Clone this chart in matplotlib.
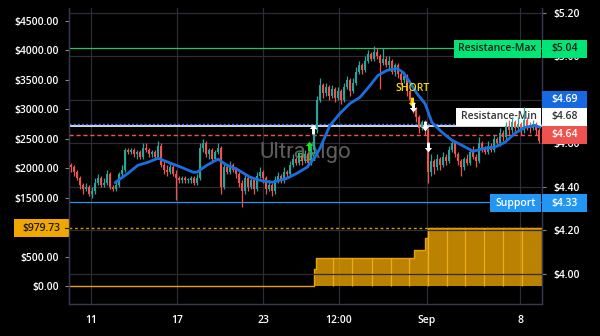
import numpy as np
import matplotlib
matplotlib.use('Agg')
import matplotlib.pyplot as plt
from matplotlib.path import Path
from matplotlib.patches import Rectangle
import matplotlib.transforms as mtrans

plt.rcParams['font.family'] = ['Open Sans', 'DejaVu Sans']
plt.rcParams['font.weight'] = 'semibold'

# ---------------- data ----------------
open0 = 4.50
close = [4.49, 4.47, 4.44, 4.41, 4.39, 4.40, 4.37, 4.38, 4.42, 4.44,
         4.41, 4.42, 4.46, 4.40, 4.39, 4.41, 4.46, 4.48, 4.57, 4.56,
         4.57, 4.55, 4.56, 4.54, 4.58, 4.57, 4.55, 4.56, 4.54, 4.59,
         4.50, 4.48, 4.47, 4.49, 4.46, 4.44, 4.43, 4.44, 4.43, 4.43,
         4.44, 4.42, 4.44, 4.58, 4.60, 4.55, 4.57, 4.53, 4.56, 4.58,
         4.40, 4.49, 4.47, 4.50, 4.48, 4.46, 4.42, 4.38, 4.44, 4.40,
         4.43, 4.39, 4.45, 4.47, 4.44, 4.39, 4.41, 4.38, 4.43, 4.45,
         4.43, 4.47, 4.46, 4.50, 4.53, 4.51, 4.54, 4.52, 4.55, 4.51,
         4.57, 4.66, 4.80, 4.87, 4.83, 4.86, 4.82, 4.85, 4.81, 4.84,
         4.80, 4.86, 4.89, 4.84, 4.88, 4.93, 4.96, 4.94, 4.98, 5.01,
         4.99, 5.02, 5.00, 4.97, 4.99, 4.96, 4.98, 4.93, 4.96, 4.92,
         4.89, 4.91, 4.84, 4.80, 4.76, 4.72, 4.67, 4.70, 4.66, 4.47,
         4.52, 4.49, 4.53, 4.50, 4.54, 4.52, 4.57, 4.60, 4.55, 4.52,
         4.49, 4.53, 4.51, 4.56, 4.54, 4.52, 4.60, 4.58, 4.56, 4.59,
         4.57, 4.62, 4.60, 4.65, 4.63, 4.68, 4.66, 4.70, 4.67, 4.69,
         4.66, 4.71, 4.68, 4.67, 4.69, 4.66, 4.61]
high = [4.51, 4.50, 4.48, 4.45, 4.42, 4.42, 4.41, 4.40, 4.44, 4.46,
        4.45, 4.44, 4.48, 4.47, 4.41, 4.43, 4.47, 4.50, 4.58, 4.58,
        4.58, 4.58, 4.57, 4.57, 4.60, 4.60, 4.58, 4.57, 4.57, 4.61,
        4.60, 4.52, 4.50, 4.51, 4.50, 4.48, 4.45, 4.45, 4.45, 4.44,
        4.45, 4.45, 4.46, 4.60, 4.62, 4.61, 4.58, 4.58, 4.57, 4.60,
        4.59, 4.51, 4.50, 4.52, 4.51, 4.49, 4.47, 4.43, 4.46, 4.45,
        4.45, 4.44, 4.47, 4.49, 4.48, 4.45, 4.43, 4.42, 4.45, 4.47,
        4.46, 4.49, 4.48, 4.52, 4.55, 4.54, 4.56, 4.55, 4.57, 4.56,
        4.59, 4.68, 4.82, 4.90, 4.88, 4.88, 4.87, 4.87, 4.86, 4.86,
        4.85, 4.88, 4.91, 4.90, 4.90, 4.95, 4.98, 4.97, 5.00, 5.03,
        5.02, 5.05, 5.04, 5.01, 5.04, 5.00, 5.00, 4.99, 4.97, 4.97,
        4.93, 4.93, 4.92, 4.85, 4.81, 4.77, 4.73, 4.71, 4.71, 4.67,
        4.55, 4.53, 4.55, 4.54, 4.56, 4.55, 4.59, 4.62, 4.61, 4.56,
        4.53, 4.54, 4.55, 4.58, 4.59, 4.55, 4.63, 4.61, 4.59, 4.61,
        4.60, 4.64, 4.63, 4.67, 4.66, 4.70, 4.71, 4.72, 4.71, 4.72,
        4.70, 4.77, 4.72, 4.70, 4.71, 4.70, 4.67]
low = [4.47, 4.45, 4.43, 4.39, 4.37, 4.38, 4.36, 4.35, 4.37, 4.41,
       4.40, 4.40, 4.41, 4.39, 4.38, 4.38, 4.40, 4.45, 4.47, 4.55,
       4.55, 4.54, 4.53, 4.53, 4.53, 4.56, 4.54, 4.54, 4.53, 4.53,
       4.49, 4.46, 4.45, 4.46, 4.45, 4.34, 4.42, 4.42, 4.42, 4.42,
       4.42, 4.41, 4.41, 4.43, 4.56, 4.54, 4.53, 4.52, 4.52, 4.55,
       4.37, 4.39, 4.46, 4.46, 4.47, 4.44, 4.40, 4.31, 4.37, 4.38,
       4.39, 4.37, 4.38, 4.44, 4.42, 4.37, 4.38, 4.36, 4.37, 4.42,
       4.42, 4.42, 4.44, 4.45, 4.49, 4.50, 4.50, 4.50, 4.51, 4.49,
       4.50, 4.55, 4.65, 4.79, 4.81, 4.82, 4.80, 4.81, 4.79, 4.80,
       4.78, 4.79, 4.85, 4.82, 4.83, 4.87, 4.92, 4.92, 4.93, 4.97,
       4.98, 4.98, 4.99, 4.85, 4.96, 4.95, 4.94, 4.92, 4.91, 4.90,
       4.87, 4.88, 4.82, 4.78, 4.74, 4.70, 4.65, 4.66, 4.64, 4.42,
       4.45, 4.46, 4.48, 4.48, 4.49, 4.50, 4.51, 4.56, 4.54, 4.50,
       4.45, 4.48, 4.50, 4.50, 4.53, 4.49, 4.51, 4.56, 4.55, 4.55,
       4.56, 4.56, 4.59, 4.59, 4.61, 4.62, 4.64, 4.65, 4.65, 4.66,
       4.64, 4.65, 4.66, 4.65, 4.66, 4.64, 4.60]

ma_idx = [14.7, 19.0, 22.3, 25.7, 29.0, 33.3, 36.7, 40.7, 42.0, 45.3,
          49.0, 52.0, 55.3, 59.7, 64.0, 67.3, 72.0, 75.3, 78.7, 81.3,
          83.0, 86.3, 89.7, 93.0, 96.3, 99.7, 102.3, 105.3, 108.7, 110.7,
          113.0, 115.3, 118.0, 120.3, 123.7, 127.0, 130.3, 134.0, 138.0, 141.3,
          144.7, 148.0, 151.3, 154.7, 156.3]
ma_val = [4.420, 4.463, 4.500, 4.514, 4.532, 4.509, 4.491, 4.468, 4.468, 4.500,
          4.528, 4.500, 4.482, 4.445, 4.427, 4.422, 4.440, 4.463, 4.491, 4.537,
          4.578, 4.683, 4.739, 4.784, 4.812, 4.867, 4.913, 4.936, 4.945, 4.927,
          4.881, 4.830, 4.784, 4.697, 4.651, 4.615, 4.592, 4.564, 4.578, 4.583,
          4.606, 4.647, 4.674, 4.683, 4.674]

# cumulative profit (left scale), step positions in bar units
eq_idx = [-1, 81.0, 81.7, 114.3, 118.0, 119.0, 157.5]
eq_val = [0.0, 290.0, 476.0, 612.0, 816.0, 979.73, 979.73]
eq_marks = [87.3, 93.7, 100.3, 106.7, 112.7, 119.0, 125.3, 131.3, 137.7, 144.0, 150.3]

x_ticks = [6.67, 35.33, 64.0, 89.33, 118.67, 149.67]
x_labels = ['11', '17', '23', '12:00', 'Sep', '8']
left_ticks = [0, 500, 1500, 2000, 2500, 3000, 3500, 4000, 4500]
right_ticks = [4.0, 4.2, 4.4, 4.6, 4.8, 5.0, 5.2]

res_max = 5.04
res_min = 4.68
last_price = 4.64
blue_level = 4.69
support = 4.33
equity_last = 979.73

buy_x, buy_y = [79.3], [4.59]
exitl_x, exitl_y = [80.7], [4.665]
short_x, short_y = [113.7], [4.789]
exits_x, exits_y = [114.0, 118.0, 119.0], [4.766, 4.679, 4.583]

# ---------------- figure ----------------
BG = '#000000'
GRID = '#2c2c36'
SPINE = '#363650'
TXT = '#ffffff'
UP = '#26a69a'
DN = '#ef5350'
FS = 7.5

fig = plt.figure(figsize=(6, 3.36), dpi=100, facecolor=BG)
ax = fig.add_axes([69/600, 32/336, 473/600, 296/336])
ax.set_facecolor(BG)
ax2 = ax.twinx()

ax.set_xlim(-0.667, 157)
ax.set_ylim(-306, 4721)
ax2.set_ylim(3.862, 5.223)

for a in (ax, ax2):
    for s in a.spines.values():
        s.set_color(SPINE)
        s.set_linewidth(0.9)
    a.spines['top'].set_visible(False)

ax.set_xticks(x_ticks)
ax.set_xticklabels(x_labels)
ax.tick_params(axis='x', length=0, pad=8, colors=TXT, labelsize=FS)
ax.xaxis.grid(True, color=GRID, lw=0.9)
ax.set_yticks(left_ticks)
ax.set_yticklabels(['$%.2f' % v for v in left_ticks])
ax.tick_params(axis='y', length=3, width=0.8, pad=4, colors=TXT, labelsize=FS)
ax.tick_params(axis='y', color='#888888')
ax2.set_yticks(right_ticks)
ax2.set_yticklabels(['$%.2f' % v for v in right_ticks])
ax2.tick_params(axis='y', length=3, width=0.8, pad=5, colors=TXT, labelsize=FS)
ax2.tick_params(axis='y', color='#888888')
ax2.yaxis.grid(True, color=GRID, lw=0.9)
ax2.set_axisbelow(True)

# ---- left scale: equity ----
ax.fill_between(eq_idx, 0, eq_val, step='post', color='#f0a800', alpha=0.78, lw=0, zorder=2)
ax.step(eq_idx, eq_val, where='post', color='#e8a200', lw=1.0, zorder=3)
pos = np.searchsorted(eq_idx, eq_marks, side='right') - 1
ax.vlines(eq_marks, 0, np.array(eq_val)[pos], colors='#f5b020', lw=0.9, alpha=0.9, zorder=3)
ax.axhline(equity_last, color='#d89a00', lw=1.0, ls=(0, (2, 2)), zorder=3)

bl = mtrans.blended_transform_factory(ax.transAxes, ax.transData)
ax.add_patch(Rectangle((-0.1163, equity_last - 153), 0.1163, 306, transform=bl,
                       facecolor='#f0a800', edgecolor='none', clip_on=False, zorder=6))
ax.text(-0.058, equity_last, '$%.2f' % equity_last, transform=bl, ha='center', va='center',
        fontsize=FS, color='#1a1a1a', clip_on=False, zorder=7)
ax.plot([-0.008, 0], [equity_last, equity_last], transform=bl, color='#1a1a1a', lw=0.8,
        clip_on=False, zorder=7)

# ---- right scale: price ----
ax2.text(78, 4.56, 'UltraAlgo', color='#5e5e5e', fontsize=16, ha='center', va='center',
         family=['Roboto', 'DejaVu Sans'], fontweight='normal', zorder=1)

ax2.axhline(res_max, color='#22c55e', lw=0.9, zorder=2)
ax2.axhline(support, color='#2196f3', lw=0.9, zorder=2)
ax2.axhline(res_min, color='#ffffff', lw=1.2, zorder=2)
ax2.axhline(blue_level, color='#2979ff', lw=1.0, ls=(0, (1.5, 1.5)), zorder=2)
ax2.axhline(last_price, color='#ef5350', lw=1.0, ls=(0, (3, 2)), zorder=2)

br = mtrans.blended_transform_factory(ax2.transAxes, ax2.transData)
H = 18 / 217.5


def box(x0, x1, yc, fc, text, tc, z=6, h=H):
    ax2.add_patch(Rectangle((x0, yc - h / 2), x1 - x0, h, transform=br, facecolor=fc,
                            edgecolor='none', clip_on=False, zorder=z))
    ax2.text((x0 + x1) / 2, yc, text, transform=br, ha='center', va='center', fontsize=FS,
             color=tc, clip_on=False, zorder=z + 0.1)


# white Resistance-Min box sits under the candles
box(0.818, 0.998, 4.722, '#ffffff', 'Resistance-Min', '#333333', z=2.5)

opens = np.array([open0] + close[:-1])
c = np.array(close)
idx = np.arange(len(close))
cols = np.where(c >= opens, UP, DN)
ax2.vlines(idx, low, high, colors=cols, lw=0.9, zorder=4)
ax2.bar(idx, np.maximum(np.abs(c - opens), 0.005), bottom=np.minimum(c, opens), width=0.75,
        color=cols, lw=0, zorder=4)

ax2.plot(ma_idx, ma_val, color='#1a6fe0', lw=2.0, zorder=5, solid_capstyle='round')

up_arrow = Path([(0, 1), (0.75, 0.1), (0.3, 0.1), (0.3, -1), (-0.3, -1), (-0.3, 0.1),
                 (-0.75, 0.1), (0, 1)], closed=True)
dn_arrow = Path([(0, -1), (0.75, -0.1), (0.3, -0.1), (0.3, 1), (-0.3, 1), (-0.3, -0.1),
                 (-0.75, -0.1), (0, -1)], closed=True)
ax2.plot(buy_x, buy_y, ls='none', marker=up_arrow, ms=7, color='#22dd22', mew=0, zorder=7)
ax2.plot(exitl_x, exitl_y, ls='none', marker=up_arrow, ms=7, color='#ffffff', mew=0, zorder=7)
ax2.plot(short_x, short_y, ls='none', marker=dn_arrow, ms=7, color='#f5e000', mew=0, zorder=7)
ax2.plot(exits_x, exits_y, ls='none', marker=dn_arrow, ms=7, color='#ffffff', mew=0, zorder=7)
ax2.text(78.7, 4.532, 'BUY', color='#22dd22', fontsize=FS, ha='center', va='center', zorder=3)
ax2.text(114, 4.855, 'SHORT', color='#f5e000', fontsize=FS, ha='center', va='center', zorder=7)

# labels on the right
box(0.814, 0.998, 5.0345, '#00e676', 'Resistance-Max', '#1a1a1a')
box(0.890, 0.998, 4.326, '#2196f3', 'Support', '#ffffff')
box(1.0, 1.0951, 5.0345, '#00e676', '$%.2f' % res_max, '#1a1a1a')
box(1.0, 1.0951, 4.80, '#1669e0', '$%.2f' % blue_level, '#ffffff')
box(1.0, 1.0951, 4.722, '#ffffff', '$%.2f' % res_min, '#333333')
box(1.0, 1.0951, 4.641, '#ef5350', '$%.2f' % last_price, '#ffffff')
box(1.0, 1.0951, 4.326, '#2196f3', '$%.2f' % support, '#ffffff')

fig.savefig('out.png', dpi=100, facecolor=BG)
